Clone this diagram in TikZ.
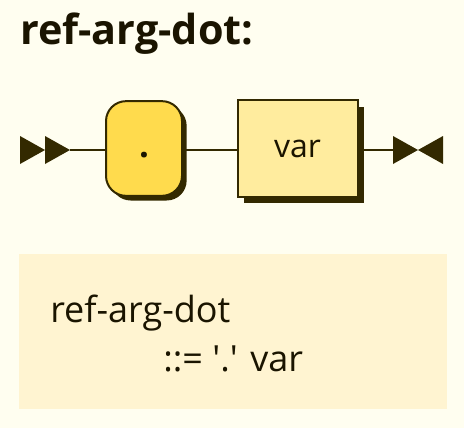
\documentclass[tikz,border=0pt]{standalone}
\usepackage{fontspec}
\setmainfont{Open Sans}
\usetikzlibrary{shadows}
\definecolor{bg}{HTML}{FFFEF0}
\definecolor{ink}{HTML}{332900}
\definecolor{termfill}{HTML}{FFDB4D}
\definecolor{ntfill}{HTML}{FFEC9E}
\definecolor{boxfill}{HTML}{FFF4D1}
\definecolor{txt}{HTML}{1A1400}
\begin{document}
\begin{tikzpicture}[x=0.75pt,y=-0.75pt,
  line/.style={draw=ink,line width=1.5pt},
  tip/.style={fill=ink,draw=none},
  term/.style={draw=ink,line width=1.5pt,fill=termfill,rounded corners=15pt,
    minimum width=57pt,minimum height=71pt,inner sep=0pt,
    drop shadow={shadow xshift=3.5pt,shadow yshift=-3.5pt,fill=ink,opacity=1},
    font=\fontsize{26}{30}\selectfont\bfseries,text=txt},
  nterm/.style={draw=ink,line width=1.5pt,fill=ntfill,
    minimum width=90pt,minimum height=72pt,inner sep=0pt,
    drop shadow={shadow xshift=4.5pt,shadow yshift=-4.5pt,fill=ink,opacity=1},
    font=\fontsize{24}{28}\selectfont,text=txt},
  body/.style={font=\fontsize{27}{32}\selectfont,text=txt,anchor=base west,inner sep=0pt}]
\useasboundingbox (0,0) rectangle (464,428);
\fill[bg] (0,0) rectangle (464,428);
% title
\node[anchor=base west,inner sep=0pt,font=\fontsize{31}{36}\selectfont\bfseries,text=txt] (title) at (20,45) {ref-arg-dot:};
% start arrows
\coordinate (s0) at (20,150);
\coordinate (s1) at (70,150);
\fill[ink] (20,136) -- (45,150) -- (20,164) -- cycle;
\fill[ink] (45,136) -- (70,150) -- (45,164) -- cycle;
% nodes
\node[term] (dot) at (144,148.5) {\vphantom{var}.};
\node[nterm] (var) at (297.5,148.5) {var};
% end arrows
\coordinate (e0) at (393,150);
\fill[ink] (393,136) -- (418,150) -- (393,164) -- cycle;
\fill[ink] (443,136) -- (418,150) -- (443,164) -- cycle;
% connectors
\draw[line] (s1) -- (dot.west |- s1);
\draw[line] (dot.east |- s1) -- (var.west |- s1);
\draw[line] (var.east |- e0) -- (e0);
% bottom box
\fill[boxfill] (19,254) rectangle (447,409);
\node[body] (lhs) at (50,322) {ref-arg-dot};
\node[body] (rhs) at (163,371) {::= \textquotesingle.\textquotesingle{} var};
\end{tikzpicture}
\end{document}
